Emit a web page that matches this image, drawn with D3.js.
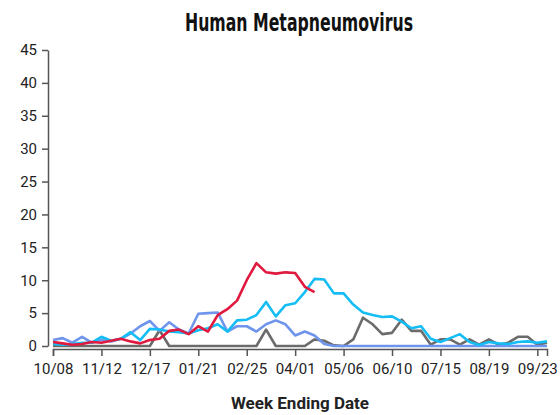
<!DOCTYPE html>
<html>
<head>
<meta charset="utf-8">
<script src="https://cdn.jsdelivr.net/npm/d3@7"></script>
<style>
  body { margin: 0; background: #fff; }
  .tick text { font-family: Roboto, "Noto Sans", sans-serif; font-size: 15px; fill: #222; }
  .axis path, .axis line { stroke: #555; stroke-width: 1.5; }
  .title { font-family: "DejaVu Sans Condensed", "DejaVu Sans", sans-serif; font-weight: bold; font-size: 25px; fill: #111; }
  .xlabel { font-family: Roboto, "Noto Sans", sans-serif; font-weight: bold; font-size: 17px; fill: #222; }
</style>
</head>
<body>
<div id="chart"></div>
<script>
// season weeks, starting week ending 10/08
var startDate = new Date(2022, 9, 8);
var nWeeks = 52;
var weeks = d3.range(nWeeks).map(function (i) { return d3.timeWeek.offset(startDate, i); });

// percent positive by week
var redSeason = [0.6, 0.4, 0.2, 0.3, 0.6, 0.5, 0.8, 1.1, 0.7, 0.4, 0.9, 1.1, 2.3, 2.5, 1.8, 3.0, 2.2, 4.7, 5.6, 6.9,
  10.0, 12.6, 11.2, 11.0, 11.2, 11.1, 9.0, 8.2];
var cyanSeason = [0.3, 0.2, 0.3, 0.5, 0.5, 1.4, 0.8, 1.1, 2.1, 0.9, 2.6, 2.5, 2.2, 2.1, 1.9, 2.4, 2.7, 3.3, 2.2, 3.9,
  4.0, 4.7, 6.7, 4.5, 6.2, 6.5, 8.2, 10.2, 10.1, 8.0, 8.0, 6.3, 5.1, 4.7, 4.4, 4.5, 3.7, 2.7, 3.0, 1.1,
  0.6, 1.2, 1.8, 0.6, 0.15, 0.6, 0.4, 0.3, 0.6, 0.7, 0.5, 0.7];
var blueSeason = [0.9, 1.2, 0.5, 1.4, 0.5, 0.9, 0.7, 1.1, 1.9, 3.0, 3.8, 2.3, 3.6, 2.5, 1.9, 4.9, 5.0, 5.1, 2.2, 3.0,
  3.0, 2.2, 3.3, 3.9, 3.3, 1.6, 2.2, 1.6, 0.3, 0, 0, 0, 0, 0, 0, 0, 0, 0, 0, 0,
  0, 0, 0, 0, 0, 0, 0, 0, 0, 0, 0, 0];
var graySeason = [0, 0, 0, 0, 0, 0, 0, 0, 0, 0, 0, 2.4, 0, 0, 0, 0, 0, 0, 0, 0,
  0, 0, 2.5, 0, 0, 0, 0, 1.0, 0.8, 0.1, 0, 1.0, 4.3, 3.3, 1.8, 2.0, 4.0, 2.3, 2.3, 0.2,
  1.0, 1.0, 0.2, 1.0, 0.2, 1.0, 0.2, 0.5, 1.4, 1.4, 0.2, 0.5];

var yTicks = [0, 5, 10, 15, 20, 25, 30, 35, 40, 45];

var series = [
  { values: graySeason, color: "#6b6b6b" },
  { values: blueSeason, color: "#6f94ec" },
  { values: cyanSeason, color: "#14bdf5" },
  { values: redSeason, color: "#e0193f" }
];

var svg = d3.select("#chart").append("svg")
  .attr("width", 560)
  .attr("height", 415);

var x = d3.scaleTime()
  .domain([weeks[0], weeks[nWeeks - 1]])
  .range([53, 547]);

var y = d3.scaleLinear()
  .domain([0, 45])
  .range([346, 50]);

// title (squeezed, no condensed face installed)
svg.append("text")
  .attr("class", "title")
  .attr("x", 299)
  .attr("y", 31)
  .attr("text-anchor", "middle")
  .attr("textLength", 228)
  .attr("lengthAdjust", "spacingAndGlyphs")
  .text("Human Metapneumovirus");

// y axis
svg.append("g")
  .attr("class", "axis")
  .attr("transform", "translate(48,0)")
  .call(d3.axisLeft(y).tickValues(yTicks).tickSizeOuter(0).tickPadding(5));

// x axis, a tick every 5 weeks
svg.append("g")
  .attr("class", "axis")
  .attr("transform", "translate(0,349)")
  .call(d3.axisBottom(x)
    .tickValues(weeks.filter(function (d, i) { return i % 5 === 0; }))
    .tickFormat(d3.timeFormat("%m/%d"))
    .tickSizeOuter(0)
    .tickSize(7)
    .tickPadding(7));

svg.append("text")
  .attr("class", "xlabel")
  .attr("x", 300)
  .attr("y", 409)
  .attr("text-anchor", "middle")
  .text("Week Ending Date");

var line = d3.line()
  .x(function (d, i) { return x(weeks[i]); })
  .y(function (d) { return y(d); });

series.forEach(function (s) {
  svg.append("path")
    .datum(s.values)
    .attr("fill", "none")
    .attr("stroke", s.color)
    .attr("stroke-width", 2.6)
    .attr("stroke-linejoin", "round")
    .attr("d", line);
});
</script>
</body>
</html>
